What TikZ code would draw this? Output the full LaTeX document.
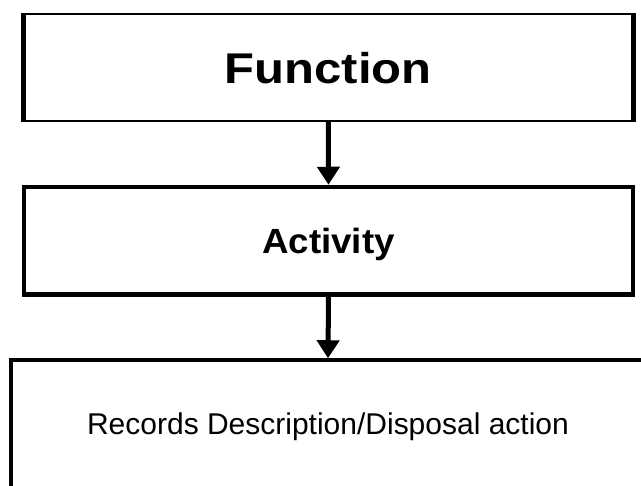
\documentclass[tikz,border=0pt]{standalone}
\usepackage{fontspec}
\setmainfont{Liberation Sans}
\usetikzlibrary{arrows.meta}

\begin{document}
\begin{tikzpicture}[x=1pt,y=-1pt,
	box/.style={draw,inner sep=0pt,text depth=0pt},
	link/.style={line width=5pt,-{Triangle[length=18pt,width=22pt]}}]
	\useasboundingbox (0,0) rectangle (641,486);
	\node[box,line width=2pt,minimum width=608.5pt,minimum height=107pt,font=\fontsize{43}{43}\selectfont\bfseries] (fn) at (328.25,67.5) {\scalebox{1.14}[1]{Function}};
	\draw[line width=5pt] (fn.north west) -- (fn.south west);
	\draw[line width=5pt] (fn.north east) -- (fn.south east);
	\node[box,line width=4.5pt,minimum width=609pt,minimum height=107.5pt,font=\fontsize{35}{35}\selectfont\bfseries] (act) at (328.5,240.75) {\scalebox{1.05}[1]{Activity}};
	\node[box,line width=3.5pt,minimum width=634pt,minimum height=128pt,font=\fontsize{30}{30}\selectfont] (rec) at (328,424) {Records Description/Disposal action};
	\draw[link] (fn.south) -- (act.north);
	\draw[link] (act.south) -- (rec.north);
\end{tikzpicture}
\end{document}
